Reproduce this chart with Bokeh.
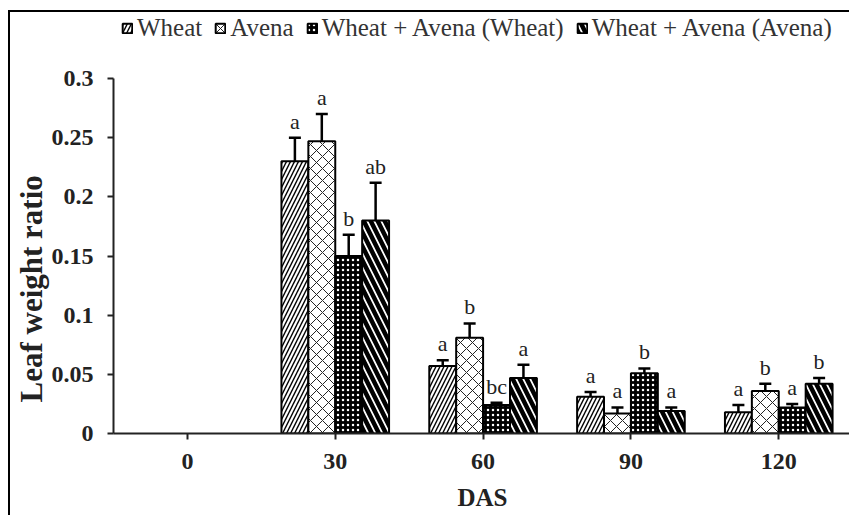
from bokeh.plotting import figure
from bokeh.models import (Range1d, FixedTicker, Legend, LegendItem, Whisker, TeeHead,
                          ColumnDataSource)
from bokeh.core.properties import value
from bokeh.embed import file_html
from bokeh.resources import INLINE

# ---- data ----
categories = ["0", "30", "60", "90", "120"]
bar_cats = ["30", "60", "90", "120"]
series_names = ["Wheat", "Avena", "Wheat + Avena (Wheat)", "Wheat + Avena (Avena)"]
wheat = [0.230, 0.057, 0.031, 0.018]
wheat_err = [0.020, 0.005, 0.004, 0.006]
wheat_lbl = ["a", "a", "a", "a"]
avena = [0.247, 0.081, 0.017, 0.036]
avena_err = [0.023, 0.012, 0.005, 0.006]
avena_lbl = ["a", "b", "a", "b"]
mix_w = [0.150, 0.024, 0.051, 0.022]
mix_w_err = [0.018, 0.002, 0.004, 0.003]
mix_w_lbl = ["b", "bc", "b", "a"]
mix_a = [0.180, 0.047, 0.019, 0.042]
mix_a_err = [0.032, 0.011, 0.003, 0.005]
mix_a_lbl = ["ab", "a", "a", "b"]
y_ticks = [0, 0.05, 0.1, 0.15, 0.2, 0.25, 0.3]
y_tick_labels = ["0", "0.05", "0.1", "0.15", "0.2", "0.25", "0.3"]
x_title = "DAS"
y_title = "Leaf  weight ratio"

SERIF = "Liberation Serif"

# frame spans canvas top (legend lives inside it); y axis is bounded to 0..0.3
p = figure(width=841, height=505, output_backend="svg", toolbar_location=None,
           x_range=Range1d(-0.5, 4.492), y_range=Range1d(0, 0.3558),
           min_border_left=101, min_border_right=0, min_border_top=0, min_border_bottom=84)
p.styles = {"border-top": "2px solid black", "border-left": "2px solid black",
            "margin-left": "8px", "margin-top": "10px"}
p.outline_line_color = None
p.xgrid.visible = False
p.ygrid.visible = False
p.background_fill_color = "white"
p.border_fill_color = "white"

cat_index = {c: i for i, c in enumerate(categories)}
xs = [cat_index[c] for c in bar_cats]
bw = 0.182
styles = [
    dict(fill_color="white", hatch_pattern="/", hatch_scale=8, hatch_weight=1.4, hatch_color="black"),
    dict(fill_color="white", hatch_pattern="x", hatch_scale=12, hatch_weight=1.0, hatch_color="#222222"),
    dict(fill_color="black", hatch_pattern=".", hatch_scale=5, hatch_weight=1, hatch_color="white"),
    dict(fill_color="white", hatch_pattern="\\", hatch_scale=14, hatch_weight=4.5, hatch_color="black"),
]
vals = [wheat, avena, mix_w, mix_a]
errs = [wheat_err, avena_err, mix_w_err, mix_a_err]
lbls = [wheat_lbl, avena_lbl, mix_w_lbl, mix_a_lbl]

items = []
for k in range(4):
    off = (k - 1.5) * bw
    x = [xi + off for xi in xs]
    top = vals[k]
    up = [t + e for t, e in zip(top, errs[k])]
    src = ColumnDataSource(dict(x=x, top=top, up=up, lbl=lbls[k]))
    r = p.vbar(x="x", top="top", width=bw, source=src, line_color="black", line_width=2,
               **styles[k])
    w = Whisker(base="x", upper="up", lower="top", source=src, dimension="height",
                line_width=2.5, line_color="black",
                upper_head=TeeHead(size=12, line_width=2.5, line_color="black"),
                lower_head=None)
    p.add_layout(w)
    p.text(x="x", y="up", text="lbl", source=src, text_align="center",
           text_baseline="bottom", y_offset=-4, text_font=value(SERIF),
           text_font_size="22px", text_color="#222222")
    items.append(LegendItem(label=series_names[k], renderers=[r]))

legend = Legend(items=items, orientation="horizontal", location=(8, 391),
                border_line_color=None, background_fill_alpha=0, padding=0, margin=0,
                spacing=12, label_standoff=4, glyph_width=12, glyph_height=12,
                label_text_font=SERIF, label_text_font_size="25px", label_text_color="#333333")
p.add_layout(legend)

# axes
p.xaxis.ticker = FixedTicker(ticks=list(range(len(categories))))
p.xaxis.major_label_overrides = {i: c for i, c in enumerate(categories)}
p.yaxis.ticker = FixedTicker(ticks=y_ticks)
p.yaxis.major_label_overrides = {t: l for t, l in zip(y_ticks, y_tick_labels)}
p.yaxis.bounds = (0, 0.3)
for ax in (p.xaxis, p.yaxis):
    ax.axis_line_width = 2
    ax.axis_line_color = "#222222"
    ax.major_tick_line_width = 2
    ax.major_tick_line_color = "#222222"
    ax.major_tick_in = 0
    ax.major_tick_out = 6
    ax.minor_tick_line_color = None
    ax.major_label_text_font = SERIF
    ax.major_label_text_font_style = "bold"
    ax.major_label_text_font_size = "24px"
    ax.major_label_text_color = "#222222"
    ax.axis_label_text_font = SERIF
    ax.axis_label_text_font_style = "bold"
    ax.axis_label_text_color = "#222222"
p.xaxis.major_label_standoff = 14
p.yaxis.major_label_standoff = 14
p.xaxis.axis_label = x_title
p.xaxis.axis_label_text_font_size = "25px"
p.xaxis.axis_label_standoff = 12
# trailing no-break spaces move the rotated title down to where the reference has it
p.yaxis.axis_label = y_title + "\u00a0" * 16
p.yaxis.axis_label_text_font_size = "31px"
p.yaxis.axis_label_standoff = 0

open("out.html", "w").write(file_html(p, INLINE))
